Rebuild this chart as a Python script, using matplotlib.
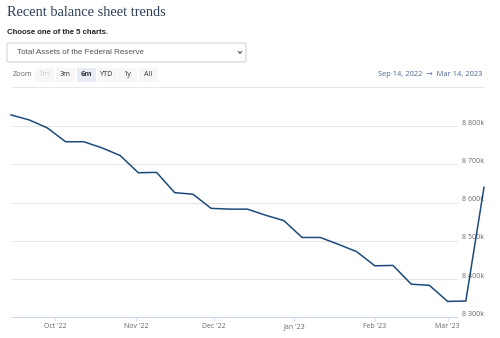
import matplotlib
matplotlib.use("Agg")
import matplotlib.pyplot as plt
import matplotlib.transforms as mtransforms
from matplotlib.patches import FancyBboxPatch, Rectangle
import pandas as pd

# ---- data ----
dates = ["2022-09-14", "2022-09-21", "2022-09-28", "2022-10-05", "2022-10-12",
         "2022-10-19", "2022-10-26", "2022-11-02", "2022-11-09", "2022-11-16",
         "2022-11-23", "2022-11-30", "2022-12-07", "2022-12-14", "2022-12-21",
         "2022-12-28", "2023-01-04", "2023-01-11", "2023-01-18", "2023-01-25",
         "2023-02-01", "2023-02-08", "2023-02-15", "2023-02-22", "2023-03-01",
         "2023-03-08", "2023-03-15"]
# total assets, millions of dollars
total_assets = [8829000, 8816000, 8795000, 8759000, 8759000,
                8743000, 8723000, 8678000, 8679000, 8626000,
                8622000, 8585000, 8583000, 8583000, 8567000,
                8553000, 8509000, 8509000, 8491000, 8472000,
                8435000, 8436000, 8387000, 8384000, 8342000,
                8343000, 8640000]
ytick_values = [8300000, 8400000, 8500000, 8600000, 8700000, 8800000]
xtick_dates = ["2022-10-01", "2022-11-01", "2022-12-01", "2023-01-01",
               "2023-02-01", "2023-03-01"]
xtick_labels = ["Oct '22", "Nov '22", "Dec '22", "Jan '23", "Feb '23", "Mar '23"]
title = "Recent balance sheet trends"
subtitle = "Choose one of the 5 charts."
dropdown_text = "Total Assets of the Federal Reserve"
zoom_buttons = ["1m", "3m", "6m", "YTD", "1y", "All"]
range_text = "Sep 14, 2022  \u2192  Mar 14, 2023"

plt.rcParams['font.family'] = ['Open Sans', 'DejaVu Sans']

W, H = 500, 338
fig = plt.figure(figsize=(W / 100, H / 100), dpi=100)

def fx(px):
    return px / W

def fy(py):
    return 1 - py / H

# ---- header ----
fig.text(fx(7), fy(13), title, family=['Liberation Serif', 'DejaVu Serif'],
         fontsize=10.4, color='#2c3e58', ha='left', va='center')
fig.text(fx(7), fy(33), subtitle, family=['Liberation Sans', 'DejaVu Sans'],
         fontsize=5.6, fontweight='bold', color='#222222', ha='left', va='center')

# dropdown box
box = FancyBboxPatch((fx(7), fy(62)), fx(239), (62 - 43) / H,
                     boxstyle="round,pad=0,rounding_size=0.004",
                     transform=fig.transFigure, facecolor='white',
                     edgecolor='#cfcfcf', linewidth=0.7)
fig.add_artist(box)
fig.text(fx(17), fy(52.5), dropdown_text, family=['Liberation Sans', 'DejaVu Sans'],
         fontsize=5.8, color='#555555', ha='left', va='center')
fig.add_artist(plt.Line2D([fx(238.3), fx(240), fx(241.7)], [fy(51.5), fy(53.5), fy(51.5)],
                          transform=fig.transFigure, color='#555555', linewidth=0.8))

# zoom buttons
fig.text(fx(13), fy(75), "Zoom", fontsize=5.2, color='#666666', ha='left', va='center')
btn_centers = [44, 65, 86, 107, 127, 148]
for lbl, cx in zip(zoom_buttons, btn_centers):
    active = (lbl == "6m")
    disabled = (lbl == "1m")
    bw = 19
    fc = '#e6ebf5' if active else '#f7f7f7'
    fig.add_artist(Rectangle((fx(cx - bw / 2), fy(81.5)), fx(bw), 13.5 / H,
                             transform=fig.transFigure, facecolor=fc,
                             edgecolor='none'))
    col = '#cccccc' if disabled else '#333333'
    fig.text(fx(cx), fy(75), lbl, fontsize=5.2, color=col, ha='center', va='center',
             fontweight='bold' if active else 'normal')

fig.text(fx(482), fy(74), range_text, fontsize=5.4, color='#4a6592',
         ha='right', va='center')

# separator line
fig.add_artist(plt.Line2D([fx(12), fx(484)], [fy(87.5), fy(87.5)],
                          transform=fig.transFigure, color='#e8e8e8', linewidth=0.8))

# ---- chart ----
left_px, right_px = 11, 484
bottom_px, top_px = 317.5, 100
ax = fig.add_axes([fx(left_px), fy(bottom_px), fx(right_px - left_px),
                   (bottom_px - top_px) / H])
x = pd.to_datetime(dates)
ax.plot(x, total_assets, color='#1c4a7a', linewidth=1.1, clip_on=False,
        solid_joinstyle='round', zorder=5)

ax.set_xlim(x[0], x[-1])
ax.set_ylim(8300000, 8868000)
for s in ax.spines.values():
    s.set_visible(False)

grid_end = (457 - left_px) / (right_px - left_px)
for v in ytick_values[1:]:
    ax.axhline(v, xmin=0, xmax=grid_end, color='#e6e6e6', linewidth=0.75, zorder=1)
ax.axhline(ytick_values[0], xmin=0, xmax=grid_end, color='#ccd6eb', linewidth=0.75, zorder=2)

ax.set_yticks([])
off = mtransforms.ScaledTranslation(0, 3 / 100, fig.dpi_scale_trans)
trans = mtransforms.blended_transform_factory(ax.transAxes, ax.transData) + off
for v in ytick_values:
    lbl = f"{v // 1000:,}k".replace(",", " ")
    ax.text(1.0, v, lbl, transform=trans, ha='right', va='center',
            fontsize=5.0, color='#666666', zorder=3)

ax.set_xticks(pd.to_datetime(xtick_dates))
ax.set_xticklabels(xtick_labels)
ax.tick_params(axis='x', length=2.5, width=0.6, color='#ccd6eb',
               labelsize=5.0, labelcolor='#666666', pad=1.5)
ax.patch.set_alpha(0)

fig.savefig("out.png", dpi=100)
